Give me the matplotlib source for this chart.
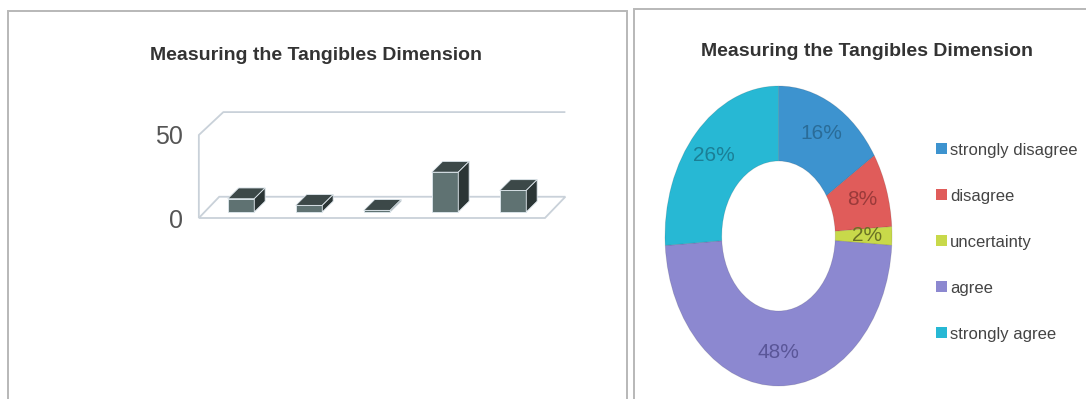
import matplotlib
matplotlib.use("Agg")
import matplotlib.pyplot as plt
from matplotlib.patches import Polygon, Rectangle

# ---------------- data ----------------
categories = ["strongly disagree", "disagree", "uncertainty", "agree", "strongly agree"]
bar_values = [8, 4, 1, 24, 13]
pct_values = [16, 8, 2, 48, 26]
y_ticks = [0, 50]
title = "Measuring the Tangibles Dimension"

# ---------------- style ----------------
W, H = 1086, 399
plt.rcParams["font.family"] = ["Liberation Sans", "DejaVu Sans"]
wedge_colors = ["#3d93cf", "#e05c5a", "#c8d94a", "#8c88d0", "#27b8d4"]
label_colors = ["#2a6c98", "#9a3a3a", "#6a7224", "#5a5698", "#1b7f96"]
front_c, top_c, side_c = "#5f7272", "#3c4848", "#2b3535"
grid_c = "#c9d1d9"

fig = plt.figure(figsize=(W / 100, H / 100), dpi=100)
fig.patch.set_facecolor("white")


def px_rect(x0, y0, x1, y1):
    """pixel box (top-left origin) -> figure fraction rect"""
    return [x0 / W, 1 - y1 / H, (x1 - x0) / W, (y1 - y0) / H]


# panel borders
for (x0, y0, x1) in [(8, 11, 627), (634, 9, 1092)]:
    fig.add_artist(Rectangle((x0 / W, -0.05), (x1 - x0) / W, 1 - y0 / H + 0.05,
                             transform=fig.transFigure, fill=False,
                             edgecolor="#b8b8b8", lw=1.4))

fig.text(316 / W, 1 - 56 / H, title, ha="center", va="center",
         fontsize=14, color="#333333", fontweight="bold")
fig.text(867 / W, 1 - 51 / H, title, ha="center", va="center",
         fontsize=14, color="#333333", fontweight="bold")

# ---------------- left: pseudo-3D column chart ----------------
# pixel mapping p = 241 + 68 x ; q = 218 - 1.66 y
ax = fig.add_axes(px_rect(190, 95, 600, 235))
ax.set_xlim((190 - 241) / 68, (600 - 241) / 68)
ax.set_ylim((218 - 235) / 1.66, (218 - 95) / 1.66)
for s in ax.spines.values():
    s.set_visible(False)
ax.set_xticks([])
ax.set_yticks(y_ticks)
ax.set_yticklabels([str(t) for t in y_ticks], fontsize=18, color="#555555")
ax.tick_params(axis="y", length=0, pad=5)
ax.patch.set_alpha(0)

xl, xr = -0.62, 4.47
fdx, fdy = 0.30, 12.8
# floor
ax.add_patch(Polygon([(xl, 0), (xr, 0), (xr + fdx, fdy), (xl + fdx, fdy)],
                     closed=True, facecolor="white", edgecolor=grid_c, lw=1.3))
# wall outline
ax.plot([xl, xl, xl + fdx + 0.06, xr + fdx],
        [0, y_ticks[-1], y_ticks[-1] + fdy + 1, y_ticks[-1] + fdy + 1],
        color=grid_c, lw=1.3, solid_capstyle="butt")

bw = 0.39
bdx, bdy = 0.16, 6.5
base = 3.6
xs = list(range(len(bar_values)))
ax.bar(xs, bar_values, width=bw, bottom=base, color=front_c,
       edgecolor="#dfe8ee", lw=0.6, zorder=3)
for x, v in zip(xs, bar_values):
    l, r = x - bw / 2, x + bw / 2
    t = base + v
    ax.add_patch(Polygon([(l, t), (r, t), (r + bdx, t + bdy), (l + bdx, t + bdy)],
                         closed=True, facecolor=top_c, edgecolor="#dfe8ee", lw=0.6, zorder=4))
    ax.add_patch(Polygon([(r, base), (r + bdx, base + bdy), (r + bdx, t + bdy), (r, t)],
                         closed=True, facecolor=side_c, edgecolor="#dfe8ee", lw=0.6, zorder=4))

# ---------------- right: doughnut ----------------
ax2 = fig.add_axes(px_rect(665, 86, 892, 386))
wedges, texts, autotexts = ax2.pie(
    pct_values, colors=wedge_colors, startangle=90, counterclock=False,
    radius=1.0, autopct=lambda p: f"{p:.0f}%", pctdistance=0.78,
    wedgeprops=dict(width=0.5, edgecolor=(0, 0, 0, 0.12), lw=0.6),
    textprops=dict(fontsize=15))
for t, c in zip(autotexts, label_colors):
    t.set_color(c)
ax2.set_aspect("auto")
ax2.set_xlim(-1, 1)
ax2.set_ylim(-1, 1)
ax2.axis("off")

handles = [Rectangle((0, 0), 1, 1, facecolor=c, edgecolor="none") for c in wedge_colors]
leg = fig.legend(handles, categories, loc="upper left",
                 bbox_to_anchor=(929 / W, 1 - 136 / H), frameon=False,
                 fontsize=12, labelspacing=1.86, handlelength=0.65,
                 handleheight=0.65, handletextpad=0.2, borderaxespad=0)
for t in leg.get_texts():
    t.set_color("#444444")

fig.savefig("out.png", dpi=100)
